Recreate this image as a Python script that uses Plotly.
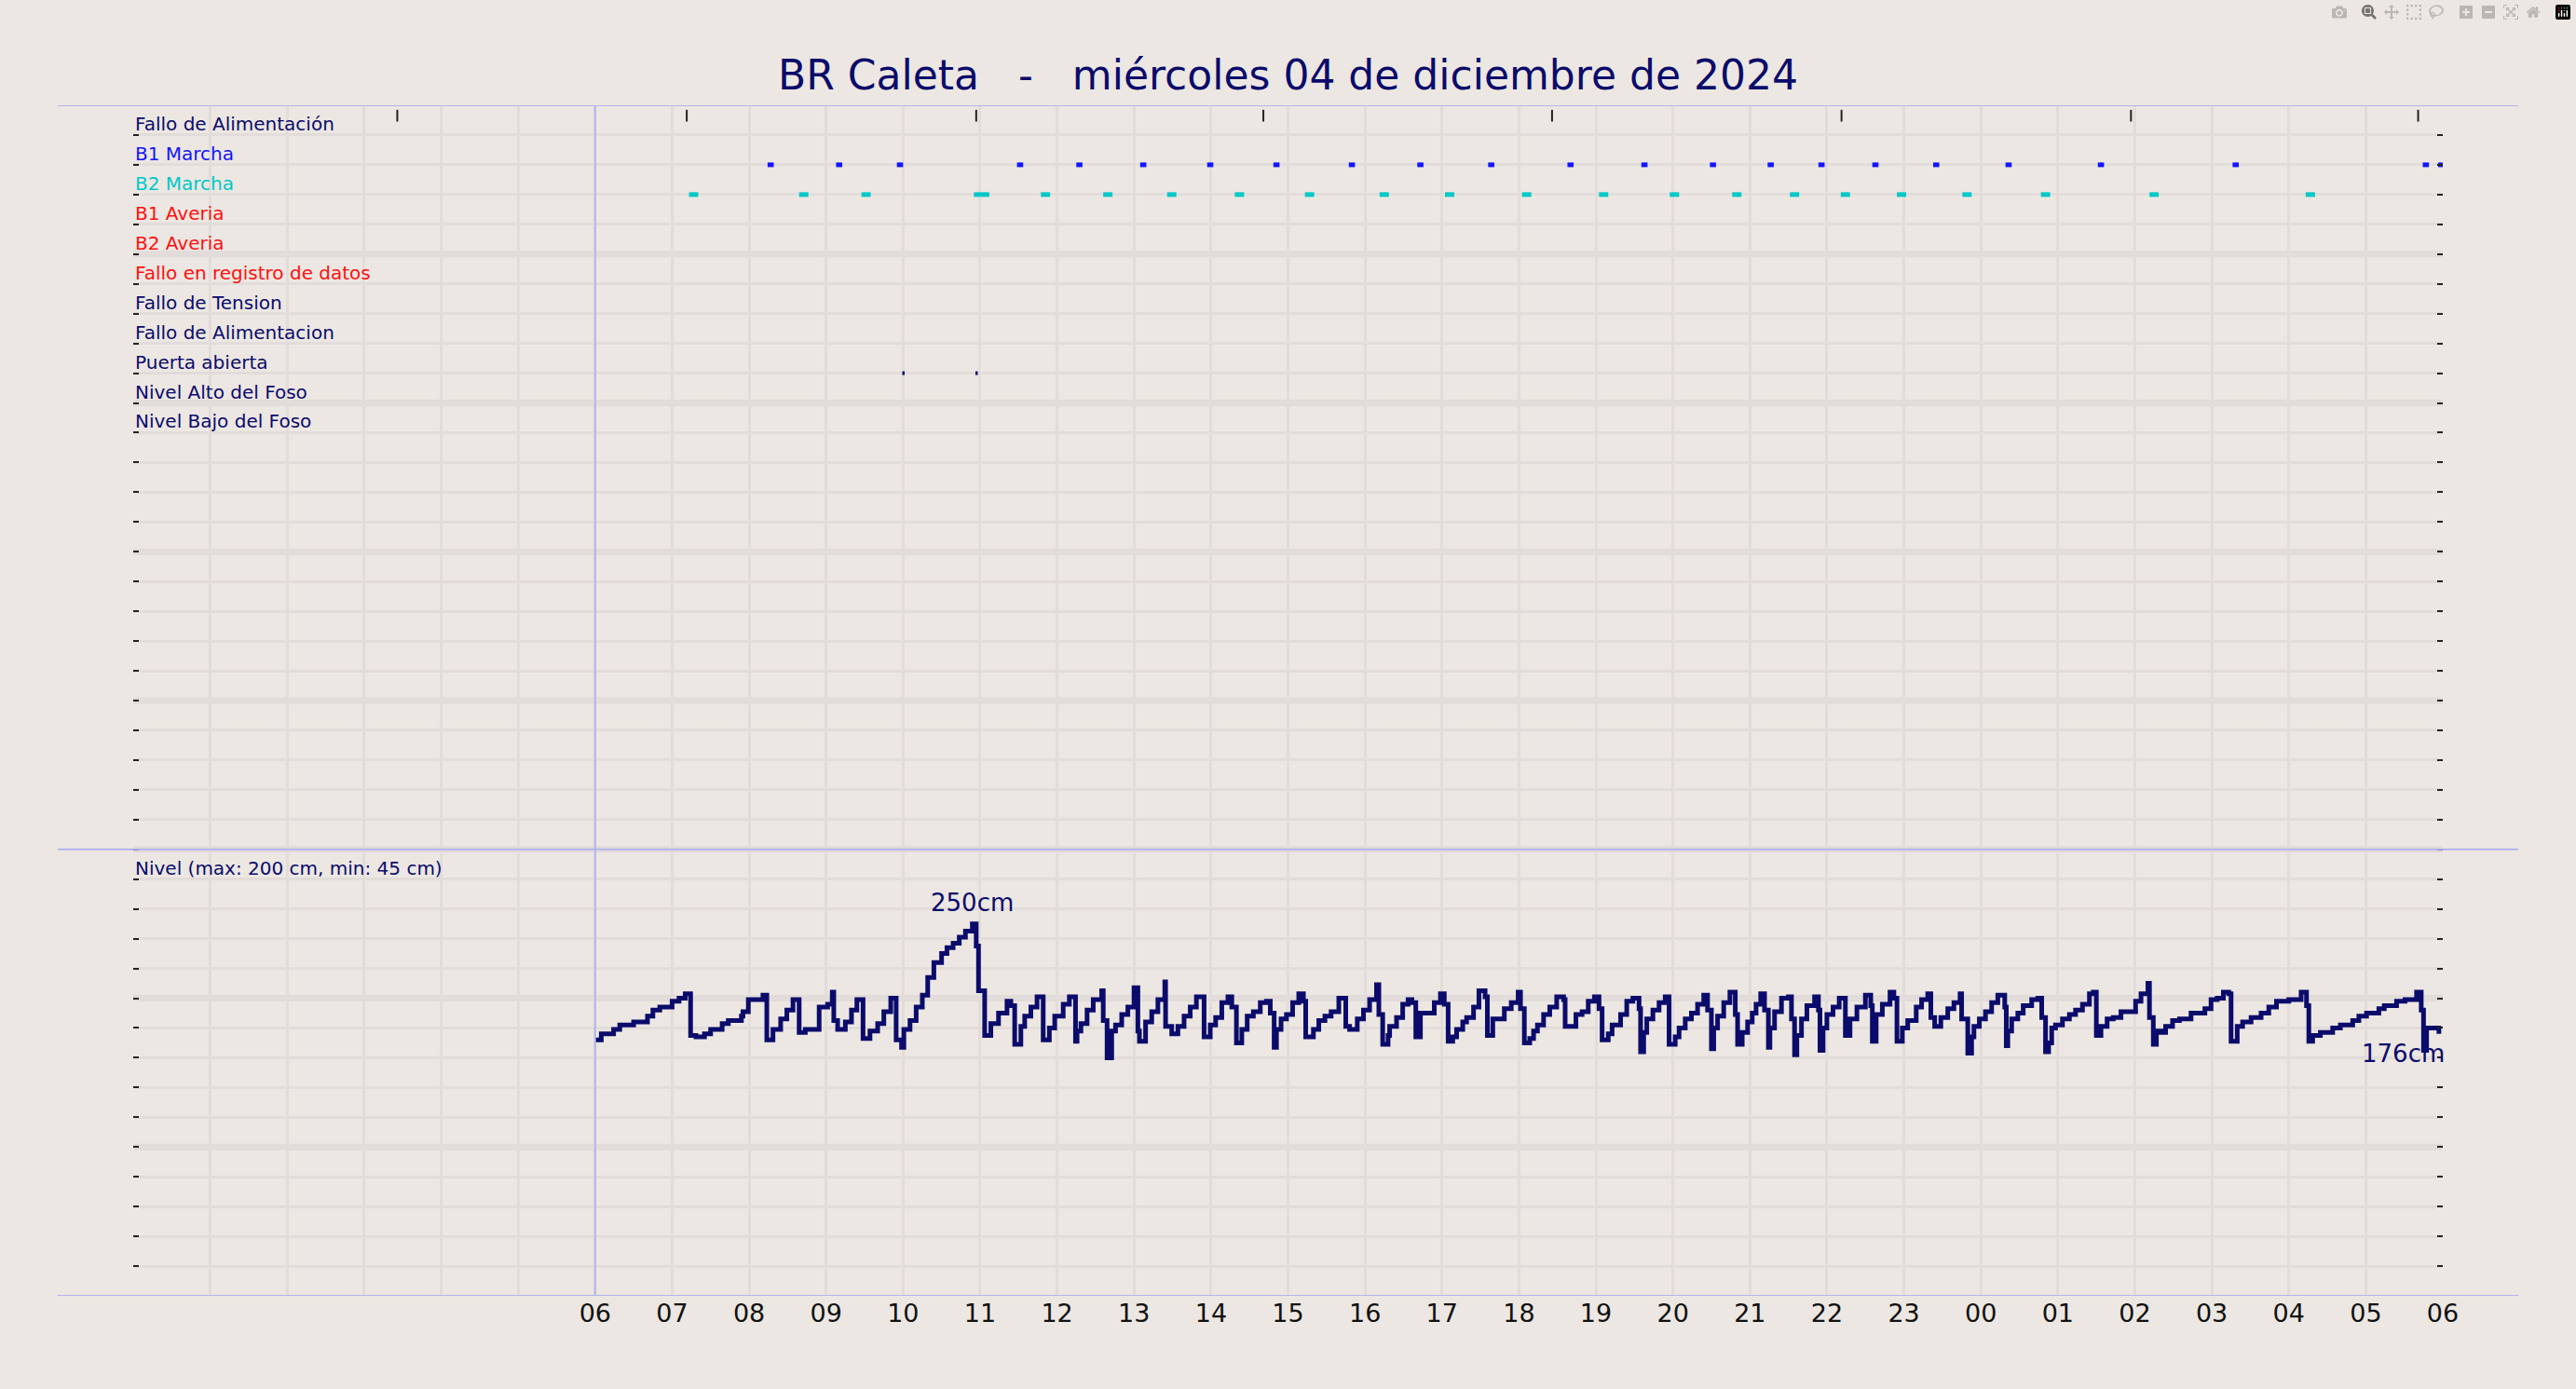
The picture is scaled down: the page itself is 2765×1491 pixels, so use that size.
import plotly.graph_objects as go

TITLE = "BR Caleta   -   miércoles 04 de diciembre de 2024"
ROW_LABELS = ["Fallo de Alimentación", "B1 Marcha", "B2 Marcha", "B1 Averia", "B2 Averia",
              "Fallo en registro de datos", "Fallo de Tension", "Fallo de Alimentacion",
              "Puerta abierta", "Nivel Alto del Foso", "Nivel Bajo del Foso"]
ROW_COLORS = ["#0b0b6b", "#1414ff", "#00c8c8", "#ff1010", "#ff1010", "#ff1010",
              "#0b0b6b", "#0b0b6b", "#0b0b6b", "#0b0b6b", "#0b0b6b"]
LEVEL_LABEL = "Nivel (max: 200 cm, min: 45 cm)"

HOUR_TICKS = list(range(0, 31))
HOUR_TEXT = [""] * 6 + ["06", "07", "08", "09", "10", "11", "12", "13", "14", "15", "16", "17", "18",
                        "19", "20", "21", "22", "23", "00", "01", "02", "03", "04", "05", "06"]
TOP_MARKS = [3.43, 7.19, 10.95, 14.68, 18.43, 22.19, 25.95, 29.68]

# events: start hour, duration hour
B1_START = [8.24, 9.13, 9.92, 11.48, 12.25, 13.08, 13.95, 14.81, 15.79, 16.68, 17.60, 18.63,
            19.59, 20.48, 21.23, 21.89, 22.59, 23.38, 24.32, 25.52, 27.27, 29.74, 29.94]
B1_DUR = [0.08] * 23
B2_START = [7.22, 8.65, 9.46, 10.92, 11.79, 12.60, 13.43, 14.31, 15.22, 16.19, 17.04, 18.04,
            19.04, 19.96, 20.77, 21.52, 22.18, 22.91, 23.76, 24.78, 26.19, 28.22]
B2_DUR = [0.12, 0.12, 0.12, 0.2] + [0.12] * 18
DOOR_START = [9.99, 10.94]
DOOR_DUR = [0.03, 0.03]

LEVEL_T = [6.0, 6.08, 6.24, 6.32, 6.50, 6.68, 6.75, 6.84, 7.0, 7.09, 7.17, 7.24, 7.31, 7.42, 7.50,
           7.65, 7.73, 7.90, 7.92, 7.99, 8.18, 8.23, 8.31, 8.41, 8.49, 8.57, 8.65, 8.73, 8.91, 9.02,
           9.08, 9.10, 9.15, 9.25, 9.33, 9.40, 9.48, 9.57, 9.67, 9.75, 9.84, 9.91, 9.98, 10.01, 10.09,
           10.17, 10.25, 10.32, 10.40, 10.50, 10.57, 10.65, 10.73, 10.81, 10.90, 10.95, 10.98, 11.06,
           11.14, 11.24, 11.35, 11.40, 11.45, 11.53, 11.58, 11.66, 11.74, 11.82, 11.90, 11.97, 12.08,
           12.16, 12.24, 12.26, 12.31, 12.39, 12.47, 12.58, 12.60, 12.65, 12.71, 12.76, 12.84, 12.92,
           13.0, 13.05, 13.07, 13.15, 13.23, 13.31, 13.40, 13.41, 13.49, 13.57, 13.65, 13.73, 13.81,
           13.91, 13.99,
           14.06, 14.14, 14.22, 14.27, 14.33, 14.40, 14.47, 14.55, 14.64, 14.72, 14.77, 14.82, 14.85,
           14.91, 14.98, 15.06, 15.14, 15.20, 15.23, 15.33, 15.40, 15.48, 15.56, 15.66, 15.75, 15.80,
           15.90, 15.98, 16.06, 16.15, 16.18, 16.23, 16.30, 16.32, 16.41, 16.49, 16.56, 16.61, 16.66,
           16.72, 16.90, 16.98, 17.03, 17.08, 17.14, 17.19, 17.27, 17.32, 17.41, 17.48, 17.56, 17.59,
           17.66, 17.81, 17.90, 17.99, 18.02, 18.07, 18.14, 18.19, 18.24, 18.32, 18.40, 18.49, 18.58,
           18.60, 18.74, 18.82, 18.90, 18.98, 19.04, 19.08, 19.16, 19.21, 19.32, 19.40, 19.48, 19.56,
           19.58, 19.62, 19.66, 19.74, 19.82, 19.90, 19.95, 20.03, 20.08, 20.16, 20.24, 20.32, 20.40,
           20.45, 20.50, 20.53, 20.58, 20.66, 20.74, 20.81, 20.84, 20.90, 20.97, 21.03, 21.08, 21.14,
           21.19, 21.24, 21.26, 21.32, 21.41, 21.50, 21.54, 21.58, 21.61, 21.67, 21.74, 21.84, 21.89,
           21.91, 21.95, 22.00, 22.08, 22.16,
           22.24, 22.30, 22.39, 22.50, 22.57, 22.59, 22.64, 22.72, 22.82, 22.87, 22.91, 22.98, 23.05,
           23.16, 23.23, 23.31, 23.35, 23.40, 23.48, 23.57, 23.65, 23.73, 23.75, 23.83, 23.88, 23.91,
           23.98, 24.06, 24.14, 24.22, 24.31, 24.33, 24.35, 24.40, 24.48, 24.55, 24.66, 24.74, 24.79,
           24.84, 24.88, 24.92, 24.97, 25.06, 25.15, 25.23, 25.32, 25.41, 25.46, 25.50, 25.56, 25.64,
           25.72, 25.82, 26.01, 26.08, 26.17, 26.19, 26.24, 26.28, 26.34, 26.40, 26.49, 26.58, 26.73,
           26.91, 26.99, 27.07, 27.15, 27.22, 27.25, 27.33, 27.40, 27.51, 27.64, 27.74, 27.84, 28.00,
           28.16, 28.23, 28.26, 28.31, 28.41, 28.57, 28.67, 28.83, 28.91, 29.01, 29.17, 29.24, 29.40,
           29.51, 29.66, 29.72, 29.75, 29.79, 29.95]
LEVEL_V = [172, 176, 179, 182, 184, 188, 192, 194, 198, 200, 203, 175, 174, 176, 179,
           183, 185, 188, 191, 199, 202, 172, 179, 186, 192, 199, 177, 179, 194, 196,
           204, 185, 179, 184, 192, 199, 173, 178, 183, 191, 200, 172, 167, 179, 185,
           194, 202, 214, 224, 230, 234, 237, 241, 245, 250, 235, 205, 175,
           183, 190, 198, 195, 169, 181, 188, 194, 201, 172, 180, 188, 196,
           201, 171, 178, 183, 192, 199, 205, 185, 160, 178, 182, 189, 194,
           207, 178, 171, 184, 191, 199, 211, 181, 176, 181, 188, 194, 201,
           174, 182,
           187, 197, 201, 194, 170, 179, 188, 191, 197, 198, 190, 167, 179,
           186, 189, 197, 203, 198, 174, 179, 185, 188, 191, 200, 181, 179,
           186, 192, 199, 209, 189, 169, 175, 181, 187, 196, 199, 197, 174,
           190, 197, 203, 196, 171, 174, 179, 184, 187, 194, 205, 201, 175,
           186, 193, 197, 204, 193, 170, 173, 178, 182, 189, 194, 201, 199,
           181, 189, 191, 198, 201, 193, 172, 176, 182, 189, 198, 200, 193,
           164, 177, 186, 192, 197, 201, 169, 174, 180, 186, 190, 196, 202,
           192, 166, 180, 188, 197, 204, 189, 169, 177, 184, 190, 196, 203,
           192, 167, 180, 191, 200, 201, 186, 162, 175, 186, 195, 201, 192,
           165, 180, 189, 194, 200,
           175, 186, 194, 202, 195, 171, 189, 196, 204, 200, 171, 180, 185,
           194, 199, 203, 187, 181, 187, 193, 197, 203, 186, 163, 174, 181,
           186, 191, 197, 202, 194, 168, 178, 186, 190, 195, 199, 200, 187,
           164, 170, 180, 182, 186, 189, 192, 196, 203, 204, 175, 181, 186,
           187, 191, 198, 203, 210, 187, 169, 178, 177, 181, 185, 186, 190,
           193, 199, 200, 204, 203, 171, 181, 184, 187, 190, 194, 198, 199,
           204, 195, 171, 175, 177, 180, 182, 185, 188, 190, 193, 195, 198,
           199, 204, 192, 165, 180, 176]

NAVY = "#0b0b6b"
BG = "#ece7e2"
GRID = "#e2dcda"


def segments(starts, durs, y):
    xs, ys = [], []
    for s, d in zip(starts, durs):
        xs += [s, s + d, None]
        ys += [y, y, None]
    return xs, ys


fig = go.Figure()
for starts, durs, row, col, w in [(B1_START, B1_DUR, 2, "#1414ff", 5),
                                  (B2_START, B2_DUR, 3, "#00c8c8", 5),
                                  (DOOR_START, DOOR_DUR, 9, NAVY, 4)]:
    xs, ys = segments(starts, durs, row)
    fig.add_trace(go.Scatter(x=xs, y=ys, mode="lines", line=dict(color=col, width=w),
                             hoverinfo="skip", showlegend=False))

fig.add_trace(go.Scatter(x=TOP_MARKS, y=[0.35] * len(TOP_MARKS), mode="markers",
                         marker=dict(symbol="line-ns", size=9, line=dict(width=2, color="#222")),
                         cliponaxis=False, showlegend=False, hoverinfo="skip"))

fig.add_trace(go.Scatter(x=LEVEL_T, y=LEVEL_V, yaxis="y2", mode="lines", line_shape="hv",
                         line=dict(color=NAVY, width=5), showlegend=False))

imax = LEVEL_V.index(max(LEVEL_V))
fig.add_annotation(x=LEVEL_T[imax], y=LEVEL_V[imax], yref="y2", text=f"{LEVEL_V[imax]}cm",
                   showarrow=False, yanchor="bottom", yshift=6,
                   font=dict(size=26, color=NAVY, family="DejaVu Sans"))
fig.add_annotation(x=LEVEL_T[-1], y=LEVEL_V[-1], yref="y2", text=f"{LEVEL_V[-1]}cm",
                   showarrow=False, xanchor="right", yanchor="top", yshift=-4, xshift=8,
                   font=dict(size=26, color=NAVY, family="DejaVu Sans"))

for i, (lab, c) in enumerate(zip(ROW_LABELS, ROW_COLORS)):
    fig.add_annotation(x=0, xref="paper", y=i + 1, yref="y", text=lab, showarrow=False,
                       xanchor="left", yanchor="bottom", yshift=-2,
                       font=dict(size=20, color=c, family="DejaVu Sans"))
fig.add_annotation(x=0, xref="paper", y=26, yref="y", text=LEVEL_LABEL, showarrow=False,
                   xanchor="left", yanchor="bottom", yshift=-2,
                   font=dict(size=20, color=NAVY, family="DejaVu Sans"))

shapes = []
for r in range(5, 40, 5):
    shapes.append(dict(type="line", xref="paper", x0=0, x1=1, yref="y", y0=r, y1=r,
                       line=dict(color="#e1dbda", width=7), layer="below"))
for yv in [0, 25, 40]:
    shapes.append(dict(type="line", xref="paper", x0=-0.0327, x1=1.0327, yref="y", y0=yv, y1=yv,
                       line=dict(color="#b4b4f0", width=2)))
shapes.append(dict(type="line", xref="x", x0=6, x1=6, yref="y", y0=0, y1=40,
                   line=dict(color="#b4b4f0", width=2)))
fig.update_layout(shapes=shapes)

fig.update_layout(
    width=2765, height=1491,
    margin=dict(l=143, r=143, t=113, b=100),
    paper_bgcolor=BG, plot_bgcolor=BG,
    title=dict(text=TITLE, x=0.5, xanchor="center", y=1 - 81 / 1491, yanchor="middle",
               font=dict(size=44, color=NAVY, family="DejaVu Sans")),
    xaxis=dict(range=[0, 30], tickmode="array", tickvals=HOUR_TICKS, ticktext=HOUR_TEXT,
               showgrid=True, gridcolor=GRID, gridwidth=3, zeroline=False, ticks="",
               tickfont=dict(size=27, color="#111", family="DejaVu Sans")),
    yaxis=dict(range=[40, 0], tickmode="linear", tick0=0, dtick=1, showgrid=True,
               gridcolor=GRID, gridwidth=3, zeroline=False, showticklabels=False,
               ticks="inside", ticklen=6, tickwidth=2, tickcolor="#222", mirror="ticks"),
    yaxis2=dict(range=[0, 800], overlaying="y", visible=False),
)

fig.write_html("out.html",
               post_script="document.body.style.margin='0';document.body.style.background='#ece7e2';")
